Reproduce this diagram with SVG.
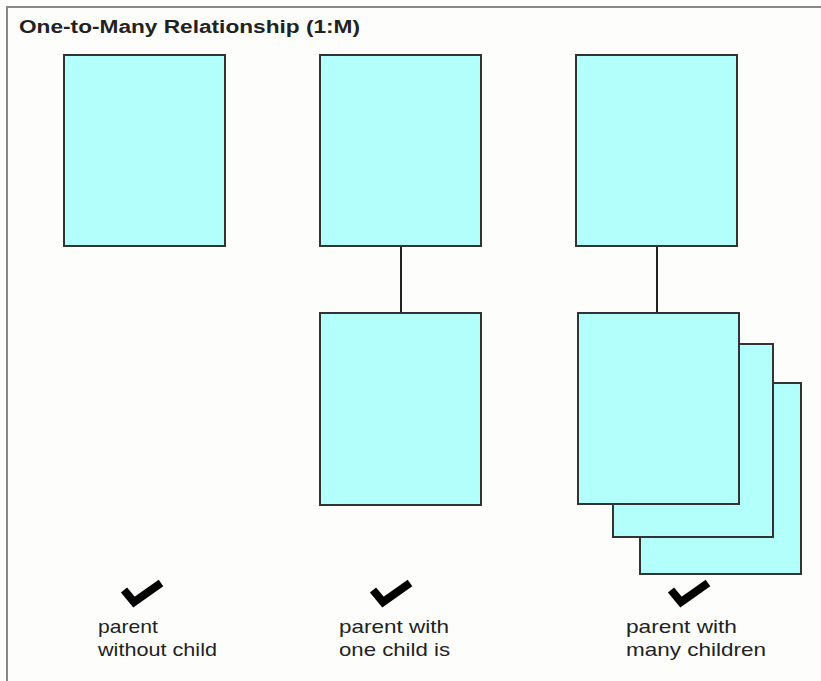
<svg xmlns="http://www.w3.org/2000/svg" width="821" height="681" viewBox="0 0 821 681">
<style>
.box{fill:#b3fffc;stroke:#333;stroke-width:2}
.conn{stroke:#222;stroke-width:2;fill:none}
.check{fill:none;stroke:#000;stroke-width:8;stroke-linejoin:miter;stroke-linecap:butt}
.lbl{font-family:"Liberation Sans",Arial,sans-serif;font-size:19px;fill:#222}
.title{font-family:"Liberation Sans",Arial,sans-serif;font-size:18px;font-weight:bold;fill:#222}
</style>
<rect x="0" y="0" width="821" height="681" fill="#fdfefc"/>
<path d="M7 681 V7 H821" fill="none" stroke="#888" stroke-width="2"/>
<text class="title" x="19" y="33" textLength="341" lengthAdjust="spacingAndGlyphs">One-to-Many Relationship (1:M)</text>
<g id="connectors">
<line class="conn" x1="401" y1="246" x2="401" y2="313"/>
<line class="conn" x1="657" y1="246" x2="657" y2="313"/>
</g>
<g id="parent1"><rect class="box" x="64" y="55" width="161" height="191"/></g>
<g id="parent2"><rect class="box" x="320" y="55" width="161" height="191"/></g>
<g id="child2"><rect class="box" x="320" y="313" width="161" height="192"/></g>
<g id="parent3"><rect class="box" x="576" y="55" width="161" height="191"/></g>
<g id="children3">
<rect class="box" x="640" y="383" width="161" height="191"/>
<rect class="box" x="613" y="344" width="160" height="193"/>
<rect class="box" x="578" y="313" width="161" height="191"/>
</g>
<g id="label1">
<path class="check" d="M124 590 L134 602 L161 583"/>
<text class="lbl" x="98" y="633" textLength="60" lengthAdjust="spacingAndGlyphs">parent</text>
<text class="lbl" x="98" y="656" textLength="119" lengthAdjust="spacingAndGlyphs">without child</text>
</g>
<g id="label2">
<path class="check" d="M373 590 L383 602 L410 583"/>
<text class="lbl" x="339" y="633" textLength="110" lengthAdjust="spacingAndGlyphs">parent with</text>
<text class="lbl" x="339" y="656" textLength="111" lengthAdjust="spacingAndGlyphs">one child is</text>
</g>
<g id="label3">
<path class="check" d="M671 590 L681 602 L708 583"/>
<text class="lbl" x="626" y="633" textLength="111" lengthAdjust="spacingAndGlyphs">parent with</text>
<text class="lbl" x="626" y="656" textLength="140" lengthAdjust="spacingAndGlyphs">many children</text>
</g>
</svg>
